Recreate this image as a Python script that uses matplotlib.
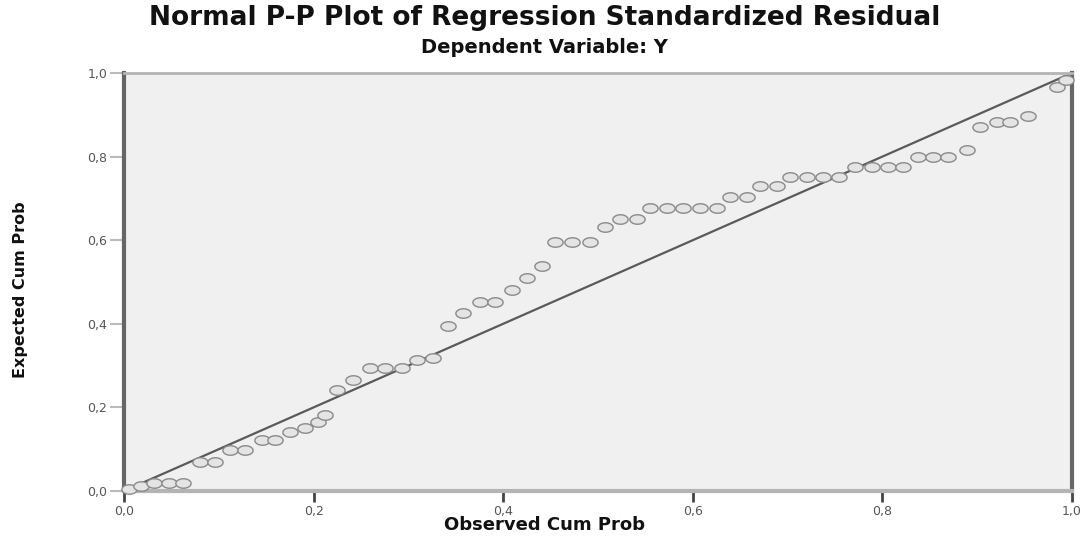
import numpy as np
import matplotlib
matplotlib.use('Agg')
import matplotlib.pyplot as plt
from matplotlib.ticker import FuncFormatter, MultipleLocator

# observed vs expected cumulative probabilities
observed = [0.005, 0.018, 0.032, 0.047, 0.062,
            0.080, 0.096,
            0.112, 0.128,
            0.146, 0.159,
            0.175, 0.191, 0.205, 0.212,
            0.225, 0.242, 0.259, 0.275, 0.293, 0.309, 0.326,
            0.342, 0.358, 0.376, 0.391, 0.409, 0.425, 0.441,
            0.455, 0.473, 0.492,
            0.507,
            0.523, 0.541,
            0.555, 0.573, 0.590, 0.608, 0.626,
            0.639, 0.657,
            0.671, 0.689,
            0.703, 0.720, 0.737, 0.754,
            0.771, 0.789, 0.806, 0.822,
            0.838, 0.853, 0.869,
            0.889,
            0.903,
            0.921, 0.935,
            0.954,
            0.984, 0.994]
expected = [0.005, 0.012, 0.018, 0.020, 0.020,
            0.069, 0.069,
            0.098, 0.098,
            0.122, 0.122,
            0.141, 0.151, 0.165, 0.182,
            0.242, 0.266, 0.294, 0.294, 0.294, 0.313, 0.318,
            0.395, 0.426, 0.452, 0.452, 0.481, 0.510, 0.538,
            0.596, 0.596, 0.596,
            0.632,
            0.651, 0.651,
            0.677, 0.677, 0.677, 0.677, 0.677,
            0.703, 0.703,
            0.730, 0.730,
            0.752, 0.752, 0.752, 0.752,
            0.775, 0.775, 0.775, 0.775,
            0.799, 0.799, 0.799,
            0.816,
            0.871,
            0.883, 0.883,
            0.897,
            0.967, 0.983]
ref_line = [0.0, 1.0]

fig = plt.figure(figsize=(10.89, 5.39), dpi=100)
ax = fig.add_axes([0.1139, 0.0891, 0.8705, 0.7755])
ax.set_facecolor('#f0f0f0')

# reference diagonal
ax.plot(ref_line, ref_line, color='#5a5a5a', lw=1.6, zorder=2)

# points are drawn as wide ellipses (the picture is stretched sideways)
t = np.linspace(0, 2 * np.pi, 40)
ell = np.column_stack([np.cos(t), 0.62 * np.sin(t)])
ax.plot(observed, expected, ls='none', marker=ell, markersize=11,
        markerfacecolor='#e4e4e4', markeredgecolor='#8a8a8a',
        markeredgewidth=1.0, zorder=3, clip_on=False)

ax.set_xlim(0, 1)
ax.set_ylim(0, 1)
ax.xaxis.set_major_locator(MultipleLocator(0.2))
ax.yaxis.set_major_locator(MultipleLocator(0.2))
fmt = FuncFormatter(lambda v, p: f'{v:.1f}'.replace('.', ','))
ax.xaxis.set_major_formatter(fmt)
ax.yaxis.set_major_formatter(fmt)

ax.tick_params(axis='x', direction='out', length=8, width=2, color='#444444',
               labelsize=9, labelcolor='#555555', pad=2)
ax.tick_params(axis='y', direction='out', length=10, width=1.5, color='#bbbbbb',
               labelsize=9, labelcolor='#555555', pad=2)

ax.spines['left'].set_color('#666666')
ax.spines['left'].set_linewidth(3)
ax.spines['right'].set_color('#666666')
ax.spines['right'].set_linewidth(3)
ax.spines['top'].set_color('#b4b4b4')
ax.spines['top'].set_linewidth(2)
ax.spines['bottom'].set_color('#b4b4b4')
ax.spines['bottom'].set_linewidth(3)

fig.text(0.5, 0.966, 'Normal P-P Plot of Regression Standardized Residual',
         ha='center', va='center', fontsize=19, fontweight='bold', color='#111111')
fig.text(0.5, 0.912, 'Dependent Variable: Y',
         ha='center', va='center', fontsize=14, fontweight='bold', color='#111111')
fig.text(0.5, 0.026, 'Observed Cum Prob', ha='center', va='center',
         fontsize=13, fontweight='bold', color='#111111')
fig.text(0.019, 0.462, 'Expected Cum Prob', rotation=90, ha='center', va='center',
         fontsize=11.5, fontweight='bold', color='#111111')

fig.savefig('out.png', dpi=100)
